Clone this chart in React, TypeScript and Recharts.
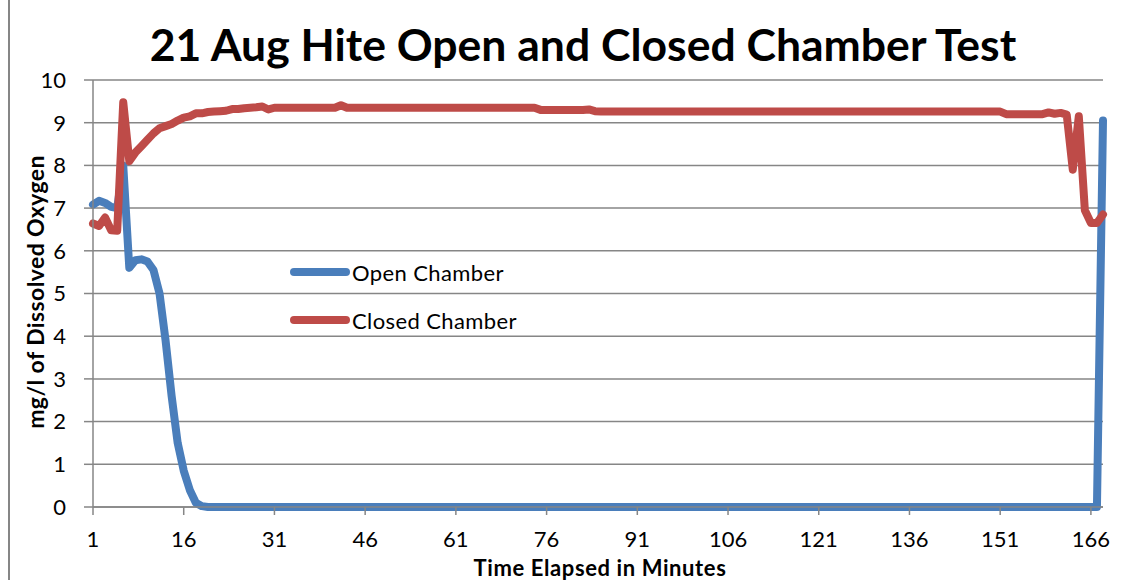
import { LineChart, Line, XAxis, YAxis, CartesianGrid } from "recharts";

// Dissolved oxygen readings (mg/l), one per elapsed minute.
const openChamber = [
  7.08, 7.17, 7.12, 7.03, 7.0, 8.0, 5.6, 5.78, 5.8, 5.75, 5.55, 5.0, 3.9, 2.6, 1.5,
  0.85, 0.4, 0.1, 0.02, 0, 0, 0, 0, 0, 0, 0, 0, 0, 0, 0,
  0, 0, 0, 0, 0, 0, 0, 0, 0, 0, 0, 0, 0, 0, 0,
  0, 0, 0, 0, 0, 0, 0, 0, 0, 0, 0, 0, 0, 0, 0,
  0, 0, 0, 0, 0, 0, 0, 0, 0, 0, 0, 0, 0, 0, 0,
  0, 0, 0, 0, 0, 0, 0, 0, 0, 0, 0, 0, 0, 0, 0,
  0, 0, 0, 0, 0, 0, 0, 0, 0, 0, 0, 0, 0, 0, 0,
  0, 0, 0, 0, 0, 0, 0, 0, 0, 0, 0, 0, 0, 0, 0,
  0, 0, 0, 0, 0, 0, 0, 0, 0, 0, 0, 0, 0, 0, 0,
  0, 0, 0, 0, 0, 0, 0, 0, 0, 0, 0, 0, 0, 0, 0,
  0, 0, 0, 0, 0, 0, 0, 0, 0, 0, 0, 0, 0, 0, 0,
  0, 0, 9.05,
];

const closedChamber = [
  6.64, 6.58, 6.78, 6.48, 6.47, 9.48, 8.1, 8.3, 8.45, 8.6, 8.75, 8.87, 8.92, 8.97, 9.05,
  9.12, 9.15, 9.22, 9.22, 9.25, 9.26, 9.27, 9.28, 9.32, 9.32, 9.34, 9.35, 9.36, 9.38, 9.31,
  9.35, 9.35, 9.35, 9.35, 9.35, 9.35, 9.35, 9.35, 9.35, 9.35, 9.35, 9.41, 9.35, 9.35, 9.35,
  9.35, 9.35, 9.35, 9.35, 9.35, 9.35, 9.35, 9.35, 9.35, 9.35, 9.35, 9.35, 9.35, 9.35, 9.35,
  9.35, 9.35, 9.35, 9.35, 9.35, 9.35, 9.35, 9.35, 9.35, 9.35, 9.35, 9.35, 9.35, 9.35, 9.3,
  9.3, 9.3, 9.3, 9.3, 9.3, 9.3, 9.3, 9.31, 9.27, 9.26, 9.26, 9.26, 9.26, 9.26, 9.26,
  9.26, 9.26, 9.26, 9.26, 9.26, 9.26, 9.26, 9.26, 9.26, 9.26, 9.26, 9.26, 9.26, 9.26, 9.26,
  9.26, 9.26, 9.26, 9.26, 9.26, 9.26, 9.26, 9.26, 9.26, 9.26, 9.26, 9.26, 9.26, 9.26, 9.26,
  9.26, 9.26, 9.26, 9.26, 9.26, 9.26, 9.26, 9.26, 9.26, 9.26, 9.26, 9.26, 9.26, 9.26, 9.26,
  9.26, 9.26, 9.26, 9.26, 9.26, 9.26, 9.26, 9.26, 9.26, 9.26, 9.26, 9.26, 9.26, 9.26, 9.26,
  9.26, 9.2, 9.2, 9.2, 9.2, 9.2, 9.2, 9.2, 9.24, 9.21, 9.23, 9.19, 7.9, 9.15, 6.95,
  6.65, 6.65, 6.85,
];

const minutes = openChamber.map((_, i) => i + 1);
const yTicks = [0, 1, 2, 3, 4, 5, 6, 7, 8, 9, 10];
const seriesNames = ["Open Chamber", "Closed Chamber"];

const BLUE = "#4a7ebb";
const RED = "#be4b48";
const GRID = "#868686";
const FONT = "Lato, 'Open Sans', sans-serif";

const data = minutes.map((m, i) => ({
  minute: m,
  open: openChamber[i],
  closed: closedChamber[i],
}));

// drawn as a plain overlay so it doesn't push the plot area down
const LegendBox = () => (
  <div
    style={{
      position: "absolute",
      left: 290,
      top: 248,
      fontFamily: FONT,
      fontSize: 22,
      color: "#000",
    }}
  >
    {[
      { label: seriesNames[0], color: BLUE },
      { label: seriesNames[1], color: RED },
    ].map((item) => (
      <div
        key={item.label}
        style={{ display: "flex", alignItems: "center", height: 48 }}
      >
        <span
          style={{
            width: 60,
            height: 8,
            borderRadius: 4,
            background: item.color,
            marginRight: 2,
          }}
        />
        <span style={{ letterSpacing: 0.4 }}>{item.label}</span>
      </div>
    ))}
  </div>
);

export default function App() {
  return (
    <div
      style={{
        position: "absolute",
        left: 0,
        top: 0,
        width: 1135,
        height: 580,
        background: "#fff",
        fontFamily: FONT,
      }}
    >
      <div
        style={{
          position: "absolute",
          left: 8,
          top: 0,
          width: 2,
          height: 580,
          background: GRID,
        }}
      />
      <LineChart
        width={1135}
        height={580}
        data={data}
        margin={{ top: 80, right: 32, bottom: 0, left: 0 }}
        style={{ position: "absolute", left: 0, top: 0 }}
      >
        <CartesianGrid vertical={false} stroke={GRID} strokeWidth={1.5} />
        <XAxis
          dataKey="minute"
          interval={14}
          height={73}
          tickSize={8}
          tickMargin={16}
          stroke={GRID}
          strokeWidth={1.5}
          tick={{ fill: "#000", fontSize: 22, fontFamily: FONT }}
        />
        <YAxis
          domain={[0, 10]}
          ticks={yTicks}
          width={93}
          tickSize={9}
          tickMargin={18}
          stroke={GRID}
          strokeWidth={1.5}
          tick={{ fill: "#000", fontSize: 22, fontFamily: FONT }}
        />
        <Line
          dataKey="open"
          name={seriesNames[0]}
          type="linear"
          stroke={BLUE}
          strokeWidth={8}
          strokeLinejoin="round"
          strokeLinecap="round"
          dot={false}
          isAnimationActive={false}
        />
        <Line
          dataKey="closed"
          name={seriesNames[1]}
          type="linear"
          stroke={RED}
          strokeWidth={8}
          strokeLinejoin="round"
          strokeLinecap="round"
          dot={false}
          isAnimationActive={false}
        />
      </LineChart>
      <LegendBox />
      <div
        style={{
          position: "absolute",
          left: 583,
          top: 43,
          transform: "translate(-50%, -50%)",
          whiteSpace: "nowrap",
          fontSize: 44.5,
          fontWeight: 700,
        }}
      >
        21 Aug Hite Open and Closed Chamber Test
      </div>
      <div
        style={{
          position: "absolute",
          left: 35,
          top: 292,
          transform: "translate(-50%, -50%) rotate(-90deg)",
          whiteSpace: "nowrap",
          fontSize: 23,
          fontWeight: 700,
          letterSpacing: 0.4,
        }}
      >
        mg/l of Dissolved Oxygen
      </div>
      <div
        style={{
          position: "absolute",
          left: 600,
          top: 568,
          transform: "translate(-50%, -50%)",
          whiteSpace: "nowrap",
          fontSize: 22,
          fontWeight: 700,
          letterSpacing: 0.6,
          lineHeight: "22px",
        }}
      >
        Time Elapsed in Minutes
      </div>
    </div>
  );
}
